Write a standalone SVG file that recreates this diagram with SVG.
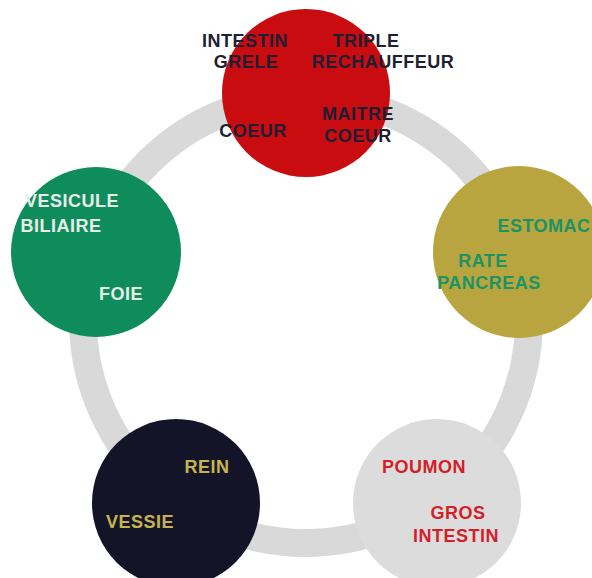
<svg xmlns="http://www.w3.org/2000/svg" width="592" height="578" viewBox="0 0 592 578">
<style>
text{font-family:"Liberation Sans",Arial,sans-serif;font-weight:bold;font-size:18px;text-anchor:middle;letter-spacing:0.5px}
.dk{fill:#1e1e34}.wh{fill:#e6eee8}.gr{fill:#1a9463}.rd{fill:#d21f2a}.yl{fill:#c6b44e}
</style>
<rect width="592" height="578" fill="#ffffff"/>
<g id="connectors">
<circle cx="306" cy="320" r="223" fill="none" stroke="#d9d9d9" stroke-width="28"/>
</g>
<g id="feu">
<circle cx="306" cy="93" r="84" fill="#c80c0f"/>
<text class="dk" x="245" y="47">INTESTIN</text>
<text class="dk" x="246" y="68">GRELE</text>
<text class="dk" x="366" y="47">TRIPLE</text>
<text class="dk" x="383" y="68">RECHAUFFEUR</text>
<text class="dk" x="253" y="137">COEUR</text>
<text class="dk" x="358" y="120">MAITRE</text>
<text class="dk" x="358" y="142">COEUR</text>
</g>
<g id="terre">
<circle cx="519" cy="252" r="86" fill="#b8a540"/>
<text class="gr" x="544" y="232">ESTOMAC</text>
<text class="gr" x="483" y="267">RATE</text>
<text class="gr" x="489" y="289">PANCREAS</text>
</g>
<g id="metal">
<circle cx="437" cy="503" r="84" fill="#dcdcdc"/>
<text class="rd" x="424" y="473">POUMON</text>
<text class="rd" x="458" y="519">GROS</text>
<text class="rd" x="456" y="542">INTESTIN</text>
</g>
<g id="eau">
<circle cx="176" cy="503" r="84" fill="#141428"/>
<text class="yl" x="207" y="473">REIN</text>
<text class="yl" x="140" y="528">VESSIE</text>
</g>
<g id="bois">
<circle cx="96" cy="252" r="85" fill="#0f8c5c"/>
<text class="wh" x="72" y="207">VESICULE</text>
<text class="wh" x="61" y="232">BILIAIRE</text>
<text class="wh" x="121" y="300">FOIE</text>
</g>
</svg>
